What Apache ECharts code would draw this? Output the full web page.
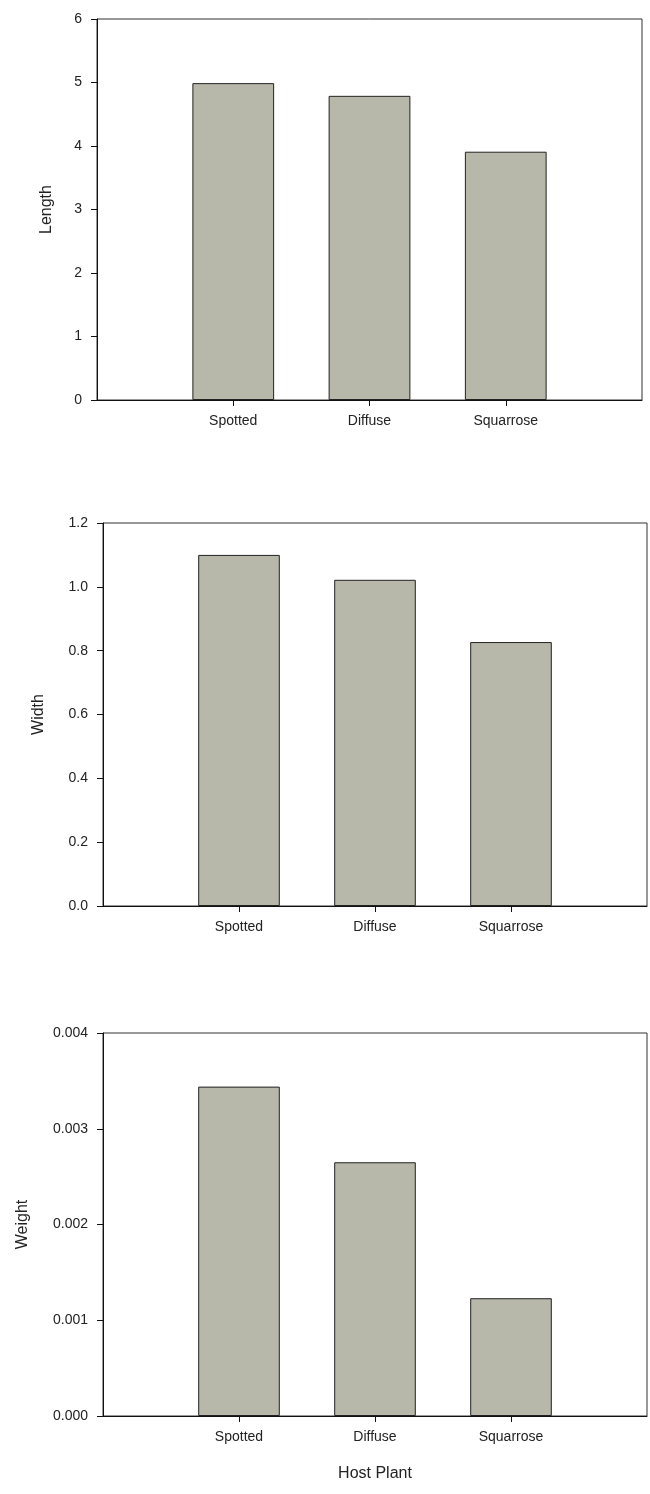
<!DOCTYPE html>
<html>
<head>
<meta charset="utf-8">
<script src="https://cdn.jsdelivr.net/npm/echarts@6/dist/echarts.min.js"></script>
<style>
html,body{margin:0;padding:0;background:#fff;}
#c{width:650px;height:1494px;}
</style>
</head>
<body>
<div id="c"></div>
<script>
var categories = ['Spotted', 'Diffuse', 'Squarrose'];
var lengthValues = [4.99, 4.79, 3.91];
var widthValues = [1.10, 1.022, 0.827];
var weightValues = [0.00344, 0.00265, 0.00123];
var lengthTicks = {min: 0, max: 6, interval: 1, decimals: 0};
var widthTicks = {min: 0, max: 1.2, interval: 0.2, decimals: 1};
var weightTicks = {min: 0, max: 0.004, interval: 0.001, decimals: 3};
var axisNames = ['Length', 'Width', 'Weight'];
var xAxisName = 'Host Plant';

var FONT = '"Liberation Sans", Arial, sans-serif';
var TEXT = '#222';
// padded category list: empty slot on each side
var paddedCats = [''].concat(categories).concat(['']);
function padVals(v) { return ['-'].concat(v).concat(['-']); }

var grids = [
  {left: 97, top: 19, width: 545, height: 381},
  {left: 103, top: 523, width: 545, height: 383},
  {left: 103, top: 1033, width: 545, height: 383}
];
var tickSets = [lengthTicks, widthTicks, weightTicks];
var valueSets = [lengthValues, widthValues, weightValues];
var nameGaps = [42, 56, 72];

var option = {
  animation: false,
  backgroundColor: '#fff',
  grid: grids.map(function (g) {
    return Object.assign({show: true, borderColor: '#333', borderWidth: 1, backgroundColor: 'transparent', containLabel: false}, g);
  }),
  xAxis: grids.map(function (g, i) {
    return {
      type: 'category',
      gridIndex: i,
      data: paddedCats,
      boundaryGap: false,
      name: i === 2 ? xAxisName : '',
      nameLocation: 'middle',
      nameGap: 50,
      nameTextStyle: {fontFamily: FONT, fontSize: 16, color: TEXT},
      axisLine: {show: true, lineStyle: {color: '#111', width: 1}},
      axisTick: {show: true, inside: false, length: 6, lineStyle: {color: '#111'},
        interval: function (idx) { return idx >= 1 && idx <= categories.length; }},
      axisLabel: {show: true, interval: 0, margin: 14, fontFamily: FONT, fontSize: 14, color: TEXT},
      splitLine: {show: false}
    };
  }),
  yAxis: grids.map(function (g, i) {
    var t = tickSets[i];
    return {
      type: 'value',
      gridIndex: i,
      min: t.min, max: t.max, interval: t.interval,
      name: axisNames[i],
      nameLocation: 'middle',
      nameGap: nameGaps[i],
      nameRotate: 90,
      nameTextStyle: {fontFamily: FONT, fontSize: 16, color: TEXT},
      axisLine: {show: true, lineStyle: {color: '#111', width: 1}},
      axisTick: {show: true, inside: false, length: 6, lineStyle: {color: '#111'}},
      axisLabel: {show: true, margin: 15, fontFamily: FONT, fontSize: 14, color: TEXT,
        formatter: function (v) { return Number(v).toFixed(t.decimals); }},
      splitLine: {show: false}
    };
  }),
  series: valueSets.map(function (vals, i) {
    return {
      type: 'bar',
      xAxisIndex: i,
      yAxisIndex: i,
      data: padVals(vals),
      barWidth: '60%',
      itemStyle: {color: '#b7b7aa', borderColor: '#222', borderWidth: 1},
      emphasis: {disabled: true}
    };
  })
};

var chart = echarts.init(document.getElementById('c'), null, {renderer: 'canvas'});
chart.setOption(option);
</script>
</body>
</html>
